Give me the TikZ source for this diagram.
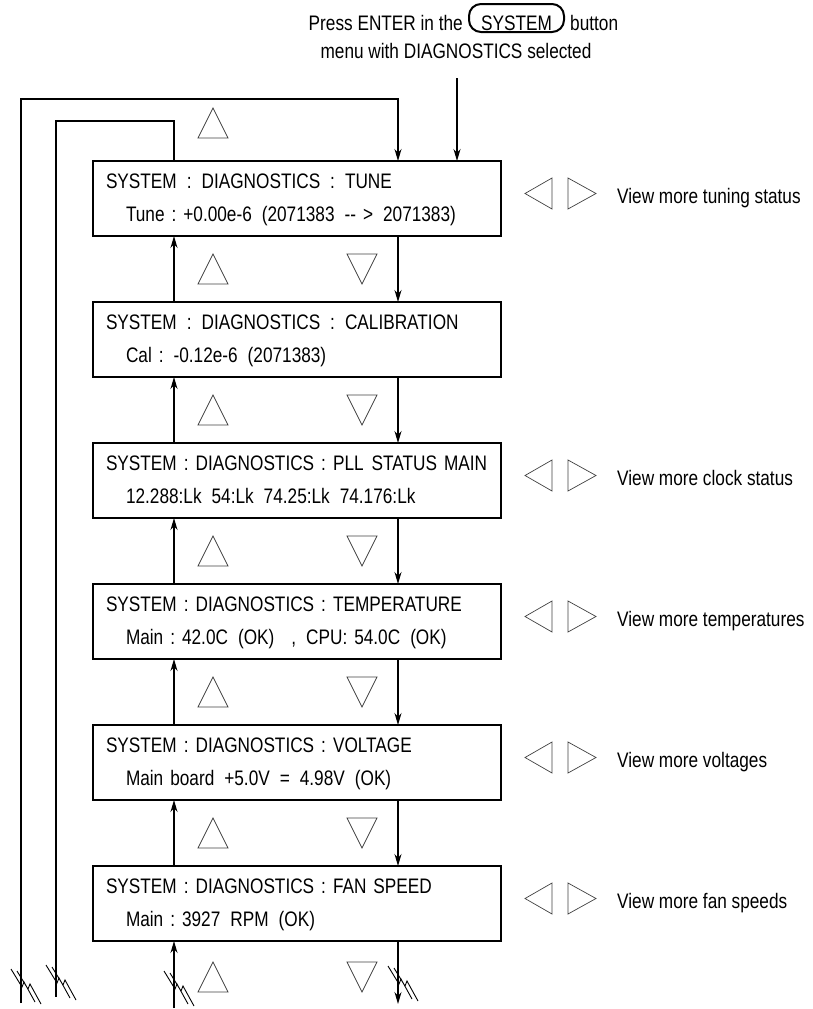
\documentclass[tikz,border=0pt]{standalone}
\usepackage{fontspec}
\setmainfont{Liberation Sans}[FakeStretch=0.82]
\usetikzlibrary{positioning, arrows.meta, calc}
\newcommand{\wsp}{\hspace{10pt}}
\frenchspacing

\begin{document}
\begin{tikzpicture}[x=1pt, y=-1pt, font=\fontsize{21}{33}\selectfont,
    screen/.style={draw, line width=2.4pt, text width=382pt, inner xsep=13pt, inner ysep=0pt,
      outer sep=0pt, minimum height=75pt, align=left},
    lbl/.style={inner sep=0pt},
    btn/.style={draw, line width=2pt, rounded corners=12pt, minimum width=95pt, inner xsep=0pt,
      inner ysep=1pt, text height=25pt, text depth=1pt},
    link/.style={line width=1.3pt},
    arrowline/.style={link, -{Stealth[length=12pt, width=7pt]}},
    tri/.style={line width=0.7pt, black!75},
    uptri/.pic={\draw[tri] (-15,15) -- (0,-15) -- (15,15) -- cycle;},
    dntri/.pic={\draw[tri] (-15,-15) -- (0,15) -- (15,-15) -- cycle;},
    lftri/.pic={\draw[tri] (13.5,-15.5) -- (-13.5,0) -- (13.5,15.5) -- cycle;},
    rttri/.pic={\draw[tri] (-14,-15.5) -- (14,0) -- (-14,15.5) -- cycle;},
    zigbreak/.pic={\draw[line width=0.9pt] (-10,-19) -- (1,-1) -- (3,-6) -- (14,14)
      (-4,-17) -- (7,1) -- (9,-4) -- (20,16);}]
  \useasboundingbox (0,0) rectangle (813,1009);

  % entry text
  \node[btn, anchor=base] (sysbtn) at (516.5,30) {SYSTEM};
  \node[lbl, anchor=base east] (press) at ([xshift=-5pt]sysbtn.base west) {Press ENTER in the};
  \node[lbl, anchor=base west] (button) at ([xshift=5pt]sysbtn.base east) {button};
  \node[lbl, anchor=base] (menu) at (456,58) {menu with DIAGNOSTICS selected};

  % screens
  \node[screen] (tune) at (297,198.5) {\strut SYSTEM\wsp:\wsp DIAGNOSTICS\wsp:\wsp TUNE\\
    \hspace*{20pt}Tune : +0.00e-6\wsp(2071383\wsp-{}- >\wsp2071383)\strut};
  \node[screen, below=66pt of tune] (cal) {\strut SYSTEM\wsp:\wsp DIAGNOSTICS\wsp:\wsp CALIBRATION\\
    \hspace*{20pt}Cal :\wsp-0.12e-6\wsp(2071383)\strut};
  \node[screen, below=66pt of cal] (pll) {\strut\mbox{SYSTEM : DIAGNOSTICS : PLL\hspace{8pt}STATUS MAIN}\\
    \hspace*{20pt}12.288:Lk\wsp54:Lk\wsp74.25:Lk\wsp74.176:Lk\strut};
  \node[screen, below=66pt of pll] (temp) {\strut SYSTEM : DIAGNOSTICS : TEMPERATURE\\
    \hspace*{20pt}Main : 42.0C\wsp(OK)\wsp\ ,\wsp CPU: 54.0C\wsp(OK)\strut};
  \node[screen, below=66pt of temp] (volt) {\strut SYSTEM : DIAGNOSTICS : VOLTAGE\\
    \hspace*{20pt}Main board\wsp+5.0V\wsp=\wsp4.98V\wsp(OK)\strut};
  \node[screen, below=66pt of volt] (fan) {\strut SYSTEM : DIAGNOSTICS : FAN SPEED\\
    \hspace*{20pt}Main : 3927\wsp RPM\wsp(OK)\strut};

  % columns and free ends
  \coordinate (upcol) at (174,0);
  \coordinate (dncol) at (398,0);
  \coordinate (tricolA) at (213,0);
  \coordinate (tricolB) at (362,0);
  \coordinate (entry) at (457,78);
  \coordinate (outerTop) at (21,99);
  \coordinate (outerEnd) at (21,1003);
  \coordinate (innerTop) at (56,121);
  \coordinate (innerEnd) at (56,997);
  \coordinate (upEnd) at (174,1008);
  \coordinate (dnEnd) at (398,1004);

  \draw[arrowline] (entry) -- (tune.north -| entry);

  % up / down between screens
  \foreach \a/\b in {tune/cal, cal/pll, pll/temp, temp/volt, volt/fan} {
    \draw[arrowline] (\b.north -| upcol) -- (\a.south -| upcol);
    \draw[arrowline] (\a.south -| dncol) -- (\b.north -| dncol);
    \pic at ($(\a.south -| tricolA)!0.5!(\b.north -| tricolA)$) {uptri};
    \pic at ($(\a.south -| tricolB)!0.5!(\b.north -| tricolB)$) {dntri};
  }

  % wrap round
  \draw[link] (tune.north -| upcol) |- (innerTop) -- (innerEnd);
  \draw[arrowline] (outerEnd) -- (outerTop) -| (tune.north -| dncol);
  \pic at ([yshift=38pt]tune.north -| tricolA) {uptri};
  \draw[arrowline] (upEnd) -- (fan.south -| upcol);
  \draw[arrowline] (fan.south -| dncol) -- (dnEnd);
  \pic at ([yshift=-36pt]fan.south -| tricolA) {uptri};
  \pic at ([yshift=-36pt]fan.south -| tricolB) {dntri};
  \pic at ([yshift=15pt]outerEnd) {zigbreak};
  \pic at ([yshift=13pt]innerEnd) {zigbreak};
  \pic at ([yshift=18pt]upEnd) {zigbreak};
  \pic at ([yshift=19pt]dnEnd) {zigbreak};

  % left / right
  \foreach \n/\t in {tune/tuning status, pll/clock status, temp/temperatures, volt/voltages, fan/fan speeds} {
    \pic at ([xshift=37.5pt, yshift=5pt]\n.east) {lftri};
    \pic at ([xshift=81pt, yshift=5pt]\n.east) {rttri};
    \node[lbl, anchor=base west] (\n-more) at ([xshift=116pt, yshift=-4.5pt]\n.east) {View more \t};
  }
\end{tikzpicture}
\end{document}
